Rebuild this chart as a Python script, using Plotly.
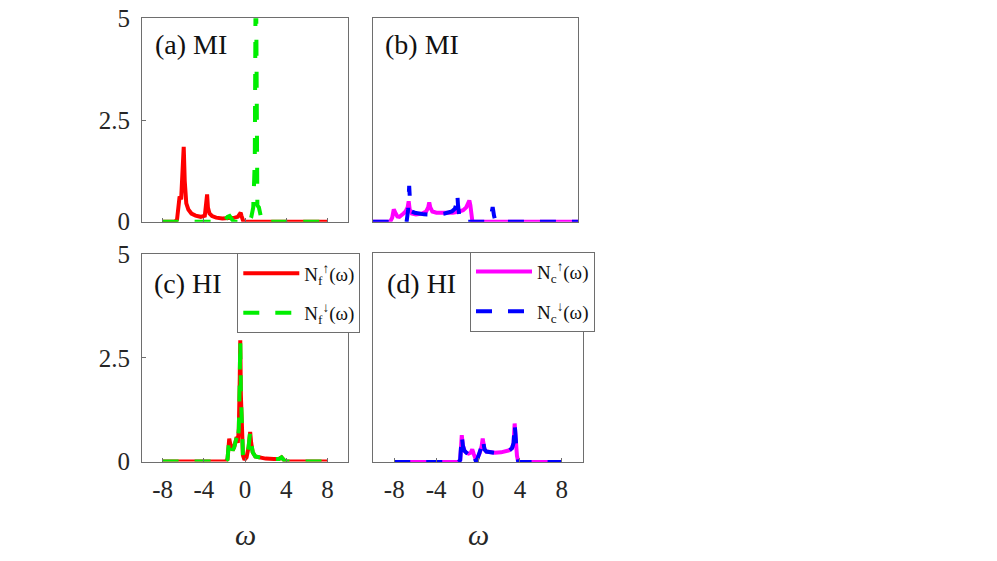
import plotly.graph_objects as go

# ---------------- data ----------------
# (a) MI, f-electrons
a_up_x = [-8, -6.8, -6.6, -6.45, -6.35, -6.2, -6.05, -5.95, -5.85, -5.7, -5.5, -5.2, -4.8, -4.3,
          -3.9, -3.75, -3.68, -3.6, -3.45, -3.2, -2.8, -2.2, -1.6, -1.0, -0.7, -0.5, -0.42, -0.35,
          -0.25, -0.15, 0.2, 8]
a_up_y = [0, 0, 0.05, 0.6, 0.62, 0.55, 1.2, 1.84, 1.0, 0.45, 0.3, 0.2, 0.15, 0.12,
          0.15, 0.4, 0.67, 0.35, 0.2, 0.14, 0.1, 0.08, 0.08, 0.1, 0.12, 0.18, 0.22, 0.15,
          0.02, 0, 0, 0]
a_dn_x = [-8, -2.2, -1.9, -1.7, -1.5, -1.3, -1.1, 0.4, 0.6, 0.8, 0.95, 1.05, 1.12, 1.2, 1.35,
          1.5, 1.65, 8]
a_dn_y = [0, 0, 0.05, 0.12, 0.14, 0.05, 0, 0, 0.1, 0.35, 1.5, 7.0, 2.0, 0.4, 0.35,
          0.1, 0, 0]

# (b) MI, c-electrons
b_up_x = [-10, -8.3, -8.1, -7.95, -7.8, -7.6, -7.4, -7.2, -7.0, -6.8, -6.6, -6.5, -6.4, -6.2,
          -5.8, -5.2, -4.8, -4.6, -4.5, -4.4, -4.2, -3.8, -3.0, -2.2, -1.6, -1.2, -0.9, -0.7,
          -0.6, -0.5, -0.4, -0.3, 10]
b_up_y = [0, 0, 0.1, 0.3, 0.22, 0.13, 0.12, 0.15, 0.2, 0.25, 0.35, 0.5, 0.3, 0.2,
          0.18, 0.2, 0.25, 0.35, 0.47, 0.35, 0.25, 0.22, 0.22, 0.22, 0.25, 0.28, 0.35, 0.45,
          0.52, 0.4, 0.1, 0, 0]
b_dn_x = [-10, -6.7, -6.55, -6.45, -6.35, -6.2, -5.9, -5.0, -4.0, -3.0, -2.3, -2.0, -1.85,
          -1.77, -1.7, -1.6, -1.5, 1.4, 1.55, 1.67, 1.8, 1.95, 10]
b_dn_y = [0, 0, 0.3, 0.88, 0.4, 0.25, 0.22, 0.18, 0.17, 0.2, 0.25, 0.32, 0.45,
          0.68, 0.4, 0.1, 0, 0, 0.15, 0.36, 0.15, 0, 0]

# (c) HI, f-electrons
c_x = [-8, -1.9, -1.7, -1.6, -1.53, -1.45, -1.3, -1.2, -1.05, -0.9, -0.8, -0.7, -0.6, -0.52,
       -0.46, -0.4, -0.32, -0.2, -0.05, 0.15, 0.35, 0.5, 0.6, 0.75, 1.0, 1.4, 2.0, 2.8, 3.3,
       3.55, 3.75, 3.9, 8]
c_up_y = [0, 0, 0.05, 0.3, 0.55, 0.45, 0.3, 0.27, 0.35, 0.5, 0.59, 0.45, 0.8, 1.8,
          2.92, 1.6, 0.5, 0.15, 0.04, 0.1, 0.35, 0.71, 0.45, 0.22, 0.12, 0.09, 0.07, 0.06, 0.06,
          0.1, 0.04, 0, 0]
c_dn_y = [0, 0, 0.05, 0.3, 0.55, 0.45, 0.3, 0.27, 0.35, 0.5, 0.59, 0.45, 0.8, 1.8,
          2.92, 1.6, 0.5, 0.15, 0.04, 0.1, 0.35, 0.71, 0.45, 0.22, 0.12, 0.09, 0.07, 0.06, 0.06,
          0.1, 0.04, 0, 0]

# (d) HI, c-electrons
d_x = [-8, -1.85, -1.7, -1.62, -1.55, -1.45, -1.3, -1.1, -0.9, -0.7, -0.55, -0.42, -0.3, -0.2,
       -0.05, 0.15, 0.35, 0.45, 0.52, 0.62, 0.8, 1.1, 1.6, 2.2, 2.7, 3.0, 3.25, 3.4, 3.5, 3.6,
       3.72, 3.85, 8]
d_up_y = [0, 0, 0.05, 0.35, 0.64, 0.4, 0.27, 0.22, 0.2, 0.22, 0.3, 0.2, 0.08, 0.05,
          0.1, 0.2, 0.38, 0.56, 0.45, 0.3, 0.25, 0.23, 0.22, 0.23, 0.25, 0.28, 0.33, 0.45, 0.92,
          0.55, 0.15, 0, 0]
d_dn_y = [0, 0, 0.05, 0.35, 0.64, 0.4, 0.27, 0.22, 0.18, 0.2, 0.28, 0.15, 0.03, 0.02,
          0.08, 0.2, 0.38, 0.56, 0.45, 0.3, 0.25, 0.23, 0.22, 0.23, 0.25, 0.28, 0.33, 0.45, 0.92,
          0.55, 0.15, 0, 0]

panel_labels = ["(a) MI", "(b) MI", "(c) HI", "(d) HI"]
x_ticks = [-8, -4, 0, 4, 8]
x_ticktext = ["-8", "-4", "0", "4", "8"]
y_ticks = [0, 2.5, 5]
y_ticktext = ["0", "2.5", "5"]
name_f_up = "N<sub>f</sub><sup>↑</sup>(ω)"
name_f_dn = "N<sub>f</sub><sup>↓</sup>(ω)"
name_c_up = "N<sub>c</sub><sup>↑</sup>(ω)"
name_c_dn = "N<sub>c</sub><sup>↓</sup>(ω)"

# ---------------- figure ----------------
W, H = 997, 561
FONT = '"Liberation Serif", "Times New Roman", Times, serif'
TXT = "#262626"
AX = "#6e6e6e"
RED, GREEN, MAG, BLUE = "#ff0000", "#00ee00", "#ff00ff", "#0000ff"
DASH = "16px,16px"
LW = 4

fig = go.Figure()

def add(x, y, color, dash, xa, ya, name, legend="legend", show=False, group=None):
    fig.add_trace(go.Scatter(
        x=x, y=y, mode="lines", name=name, xaxis=xa, yaxis=ya,
        line=dict(color=color, width=LW, dash=dash),
        showlegend=show, legend=legend, legendgroup=group,
        hoverinfo="skip"))

add(a_up_x, a_up_y, RED, "solid", "x", "y", name_f_up)
add(a_dn_x, a_dn_y, GREEN, DASH, "x", "y", name_f_dn)
add(b_up_x, b_up_y, MAG, "solid", "x2", "y2", name_c_up)
add(b_dn_x, b_dn_y, BLUE, DASH, "x2", "y2", name_c_dn)
add(c_x, c_up_y, RED, "solid", "x3", "y3", name_f_up, "legend", True, "g1")
add(c_x, c_dn_y, GREEN, DASH, "x3", "y3", name_f_dn, "legend", True, "g2")
add(d_x, d_up_y, MAG, "solid", "x4", "y4", name_c_up, "legend2", True, "g3")
add(d_x, d_dn_y, BLUE, DASH, "x4", "y4", name_c_dn, "legend2", True, "g4")

def px_x(a, b):
    return [a / W, b / W]

def px_y(top, bottom):
    return [1 - bottom / H, 1 - top / H]

doms = {
    1: (px_x(142, 348), px_y(18.3, 221.7)),
    2: (px_x(372.7, 578.3), px_y(17.5, 221.7)),
    3: (px_x(142, 348), px_y(254, 461.5)),
    4: (px_x(373.3, 582.7), px_y(252.7, 462)),
}

tickfont = dict(family=FONT, size=25, color=TXT)
layout = {}
for i in range(1, 5):
    sx = "" if i == 1 else str(i)
    xd, yd = doms[i]
    show_xlab = i in (3, 4)
    show_ylab = i in (1, 3)
    xticks = "" if i == 2 else "inside"
    yticks = "inside" if i in (1, 3) else ""
    layout["xaxis" + sx] = dict(
        domain=xd, anchor="y" + sx, range=[-10, 10],
        tickvals=x_ticks, ticktext=x_ticktext, showticklabels=show_xlab,
        ticks=xticks, ticklen=4, tickcolor=AX, ticklabelstandoff=5,
        showline=True, mirror=True, linecolor=AX, linewidth=1, automargin=False,
        showgrid=False, zeroline=False, tickfont=tickfont, fixedrange=True)
    layout["yaxis" + sx] = dict(
        domain=yd, anchor="x" + sx, range=[0, 5],
        tickvals=y_ticks, ticktext=y_ticktext, showticklabels=show_ylab,
        ticks=yticks, ticklen=4, tickcolor=AX, ticklabelstandoff=6,
        showline=True, mirror=True, linecolor=AX, linewidth=1, automargin=False,
        showgrid=False, zeroline=False, tickfont=tickfont, fixedrange=True)

fig.update_layout(**layout)

annotations = []
label_pos = [(153, 45), (383, 45), (152, 283), (385, 283)]
for txt, (lx, ly) in zip(panel_labels, label_pos):
    annotations.append(dict(
        text=txt, x=lx / W, y=1 - ly / H, xref="paper", yref="paper",
        xanchor="left", yanchor="middle", showarrow=False,
        font=dict(family=FONT, size=28, color="#111")))
for cx in (245, 478):
    annotations.append(dict(
        text="<i>ω</i>", x=cx / W, y=1 - 534 / H, xref="paper", yref="paper",
        xanchor="center", yanchor="middle", showarrow=False,
        font=dict(family=FONT, size=30, color=TXT)))

legfont = dict(family=FONT, size=19, color="#111")
fig.update_layout(
    width=W, height=H,
    margin=dict(l=0, r=0, t=0, b=0, pad=0),
    paper_bgcolor="white", plot_bgcolor="white",
    annotations=annotations,
    legend=dict(x=237.3 / W, y=1 - 253.3 / H, xanchor="left", yanchor="top",
                bgcolor="white", bordercolor=AX, borderwidth=1, font=legfont,
                itemwidth=56, tracegroupgap=12),
    legend2=dict(x=470 / W, y=1 - 251.7 / H, xanchor="left", yanchor="top",
                 bgcolor="white", bordercolor=AX, borderwidth=1, font=legfont,
                 itemwidth=56, tracegroupgap=12),
)

fig.write_html("out.html", config={"displayModeBar": False},
               post_script="document.body.style.margin='0px';")
